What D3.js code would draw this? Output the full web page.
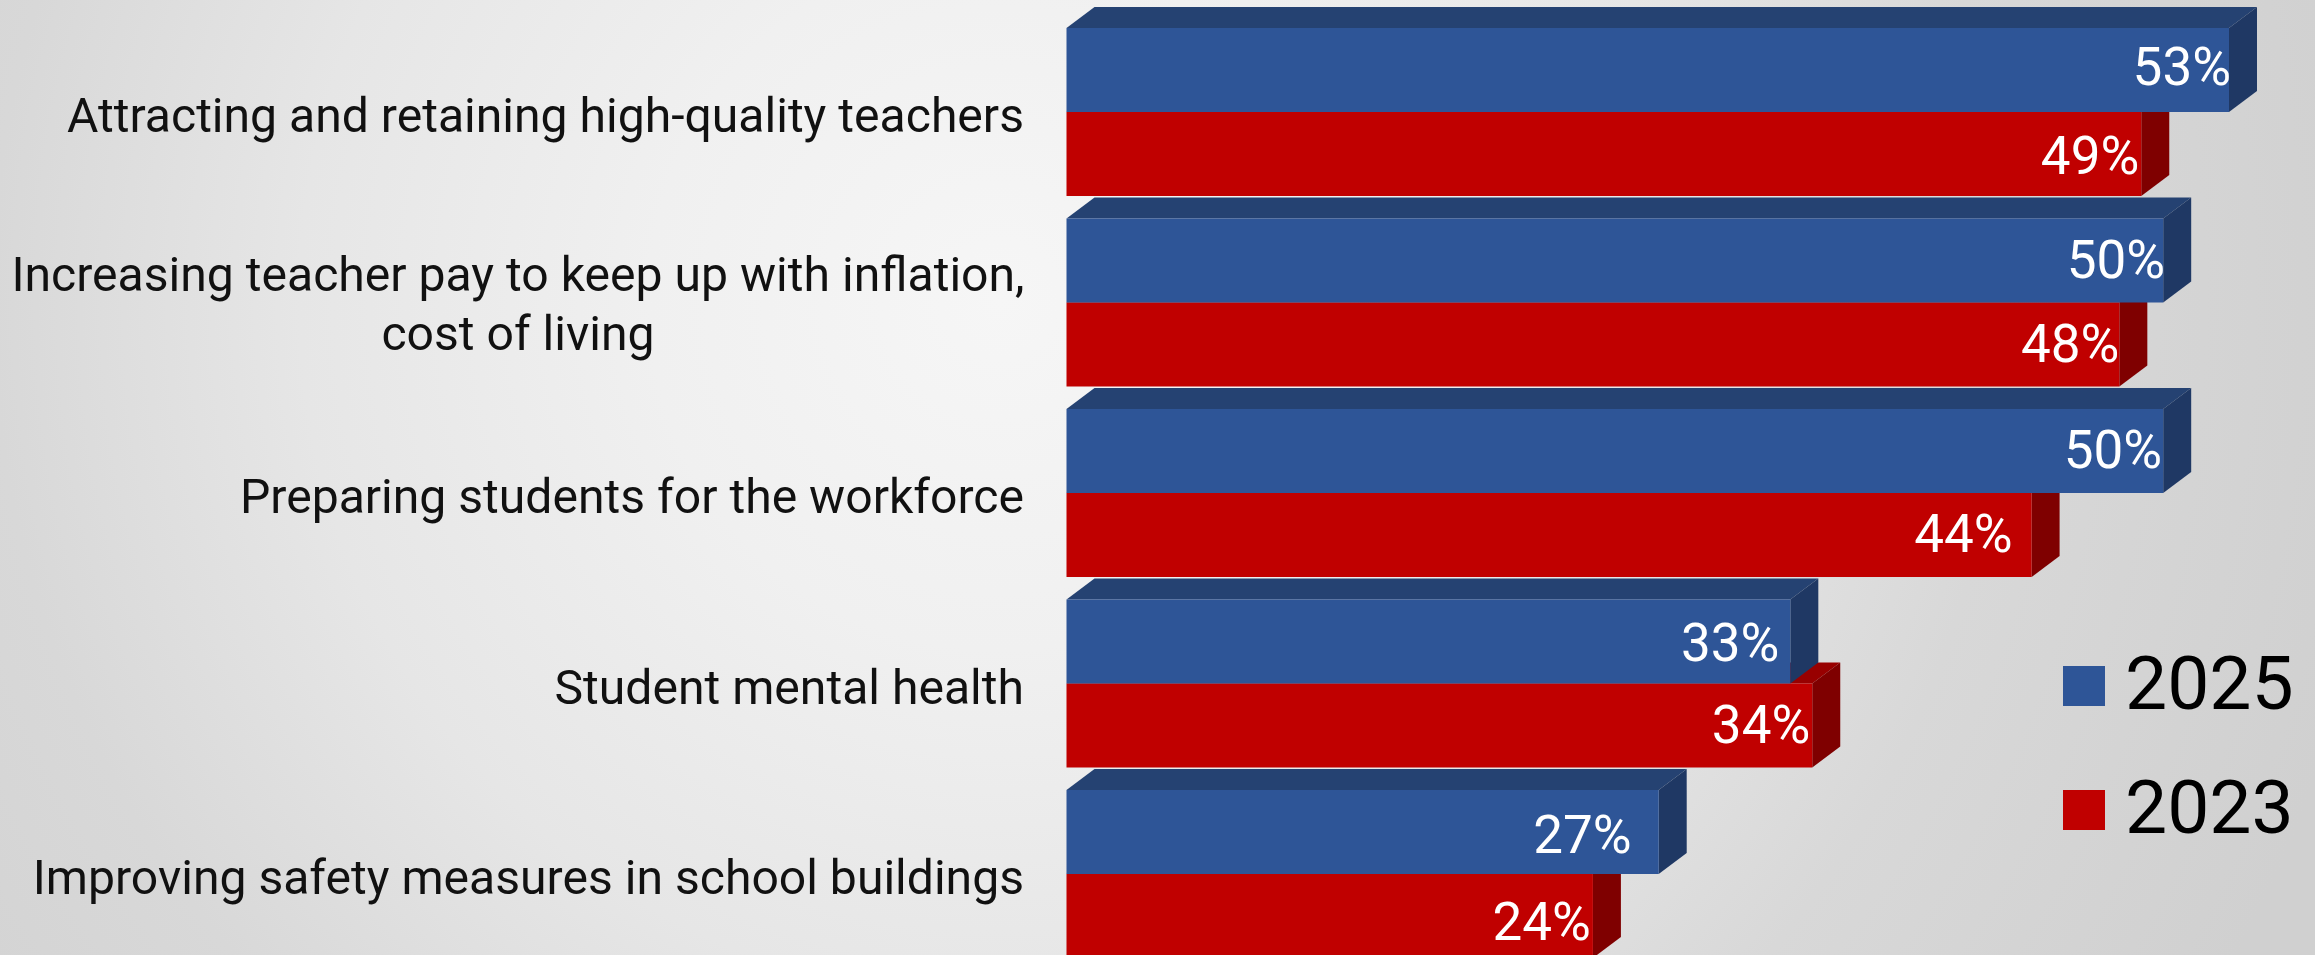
<!DOCTYPE html>
<html><head><meta charset="utf-8">
<script src="https://cdnjs.cloudflare.com/ajax/libs/d3/7.8.5/d3.min.js"></script>
<style>html,body{margin:0;padding:0;overflow:hidden;background:#fff}svg{display:block}text{font-family:Roboto,sans-serif}</style>
</head><body><svg id="c" width="2315" height="955"></svg>
<script>
const categories=[["Attracting and retaining high-quality teachers"],["Increasing teacher pay to keep up with inflation,","cost of living"],["Preparing students for the workforce"],["Student mental health"],["Improving safety measures in school buildings"]];
const seriesNames=["2025","2023"];
const values2025=[53,50,50,33,27];
const values2023=[49,48,44,34,24];
const frontColors=["#2e5597","#c00000"];
const topColors=["#254272","#980000"];
const sideColors=["#1f3864","#7f0000"];
const labelInsets=[[-2,-2,1,11,27],[2,0,19,2,2]];
const labelNudges=[[-4,-2,-2,0,2],[1,-2,-2,-2,5]];

const W=2315,H=955,DX=28,DY=21;
const svg=d3.select("#c");
const defs=svg.append("defs");
const g=defs.append("radialGradient").attr("id","bg").attr("gradientUnits","userSpaceOnUse")
 .attr("cx",1000).attr("cy",300).attr("r",1400);
[[0,"#f6f6f6"],[0.25,"#f0f0f0"],[0.5,"#e6e6e6"],[0.72,"#d8d8d8"],[1,"#d0d0d0"]].forEach(([o,c])=>g.append("stop").attr("offset",o).attr("stop-color",c));
svg.append("rect").attr("width",W).attr("height",H).attr("fill","url(#bg)");

const x=d3.scaleLinear().domain([0,53]).range([1066.5,2229]);
const y=d3.scaleBand().domain(d3.range(categories.length)).range([28,28+190.5*5]);
const bandH=84;
function bar(v,yTop,si){
 const xr=x(v),xl=x(0);
 const gg=svg.append("g");
 gg.append("polygon").attr("points",[[xl,yTop],[xl+DX,yTop-DY],[xr+DX,yTop-DY],[xr,yTop]].join(" ")).attr("fill",topColors[si]);
 gg.append("polygon").attr("points",[[xr,yTop],[xr+DX,yTop-DY],[xr+DX,yTop+bandH-DY],[xr,yTop+bandH]].join(" ")).attr("fill",sideColors[si]);
 gg.append("rect").attr("x",xl).attr("y",yTop).attr("width",xr-xl).attr("height",bandH).attr("fill",frontColors[si]);
}
categories.forEach((c,i)=>{
 const t=y(i);
 bar(values2023[i],t+bandH,1);
 bar(values2025[i],t,0);
});
categories.forEach((c,i)=>{
 const t=y(i);
 [[values2025,0],[values2023,1]].forEach(([vals,si])=>{
  svg.append("text").attr("x",x(vals[i])-labelInsets[si][i]).attr("y",t+bandH*si+42+labelNudges[si][i]).attr("dy","0.36em")
   .attr("text-anchor","end").attr("font-size",53).attr("fill","#fff").text(vals[i]+"%");
 });
 if(c.length===1){
  svg.append("text").attr("x",1024).attr("y",t+87).attr("dy","0.36em").attr("text-anchor","end").attr("font-size",48.1).attr("fill","#111").text(c[0]);
 } else {
  c.forEach((l,k)=>svg.append("text").attr("x",518).attr("y",t+85+(k-0.5)*59).attr("dy","0.36em").attr("text-anchor","middle").attr("font-size",48.1).attr("fill","#111").text(l));
 }
});
seriesNames.forEach((n,i)=>{
 const ly=[686,810][i];
 svg.append("rect").attr("x",2063).attr("y",ly-20).attr("width",42).attr("height",40).attr("fill",frontColors[i]);
 svg.append("text").attr("x",2125).attr("y",ly-4).attr("dy","0.36em").attr("font-size",75).attr("fill","#000").text(n);
});
</script></body></html>
